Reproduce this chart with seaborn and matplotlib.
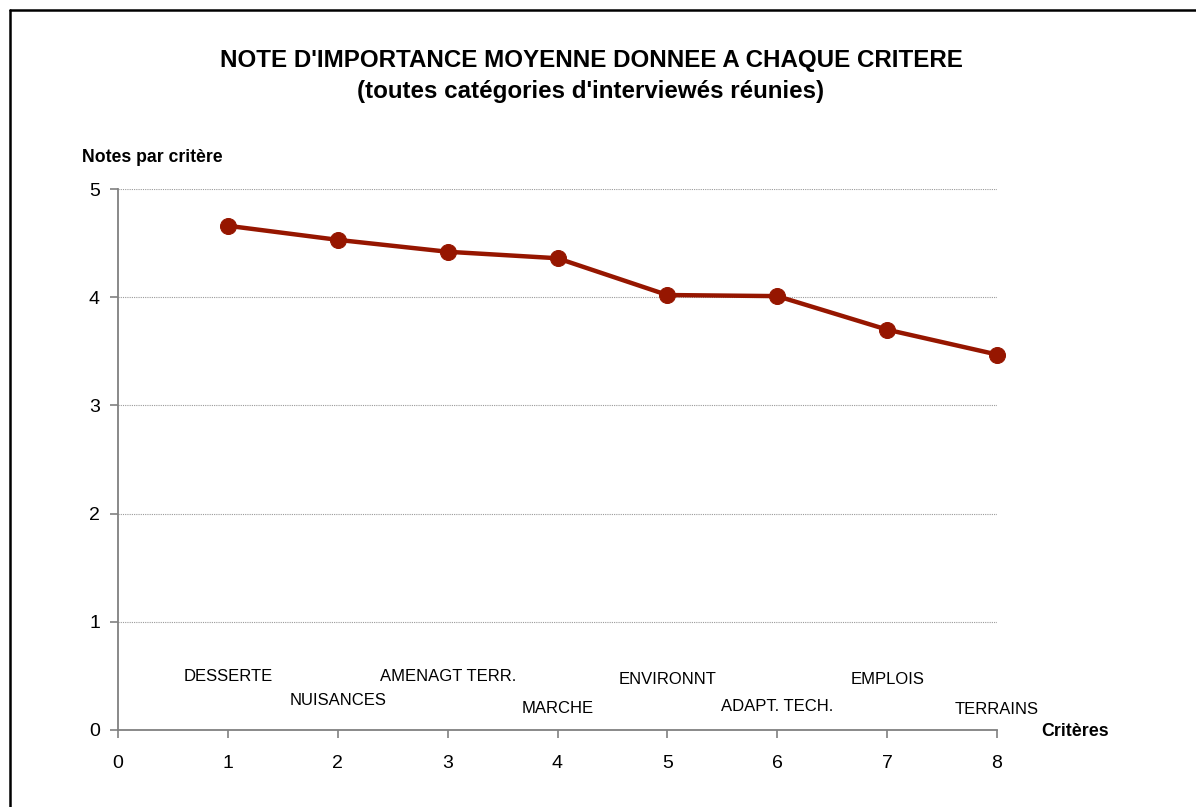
import matplotlib
matplotlib.use("Agg")
import matplotlib.pyplot as plt
import seaborn as sns
import pandas as pd
from matplotlib.lines import Line2D

# ---- data ----
criteria = [1, 2, 3, 4, 5, 6, 7, 8]
criteria_names = ["DESSERTE", "NUISANCES", "AMENAGT TERR.", "MARCHE",
                  "ENVIRONNT", "ADAPT. TECH.", "EMPLOIS", "TERRAINS"]
scores = [4.66, 4.53, 4.42, 4.36, 4.02, 4.01, 3.70, 3.47]
name_levels = [0.49, 0.27, 0.49, 0.20, 0.47, 0.22, 0.47, 0.19]
x_ticks = [0, 1, 2, 3, 4, 5, 6, 7, 8]
y_ticks = [0, 1, 2, 3, 4, 5]

title = "NOTE D'IMPORTANCE MOYENNE DONNEE A CHAQUE CRITERE\n(toutes catégories d'interviewés réunies)"
y_label = "Notes par critère"
x_label = "Critères"

sns.set_theme(style="white")
plt.rcParams["font.family"] = ["Liberation Sans", "DejaVu Sans"]
plt.rcParams["text.color"] = "black"

df = pd.DataFrame({"critere": criteria, "note": scores})

fig = plt.figure(figsize=(11.96, 8.07), dpi=100)
ax = fig.add_axes([118 / 1196, 1 - 730 / 807, (997 - 118) / 1196, (730 - 189) / 807])

line_col = "#961600"
sns.lineplot(data=df, x="critere", y="note", ax=ax, color=line_col,
             linewidth=3.2, marker="o", markersize=11.5,
             markeredgecolor=line_col, markerfacecolor=line_col, clip_on=False)

for xi, name, lv in zip(criteria, criteria_names, name_levels):
    ax.text(xi, lv, name, ha="center", va="center", fontsize=12, color="black")

ax.set_xlim(0, 8)
ax.set_ylim(0, 5)
ax.set_xticks(x_ticks)
ax.set_yticks(y_ticks)
ax.set_xticklabels([str(t) for t in x_ticks], fontsize=14)
ax.set_yticklabels([str(t) for t in y_ticks], fontsize=14)
ax.set_xlabel("")
ax.set_ylabel("")

for s in ["top", "right"]:
    ax.spines[s].set_visible(False)
for s in ["left", "bottom"]:
    ax.spines[s].set_color("#808080")
    ax.spines[s].set_linewidth(1.3)

ax.tick_params(axis="both", which="major", direction="out", length=6, width=1.2,
               color="#808080", labelcolor="black", left=True, bottom=True)
ax.tick_params(axis="y", pad=7)
ax.tick_params(axis="x", pad=12)

for yv in y_ticks[1:]:
    ax.axhline(yv, color="#9a9a9a", linewidth=0.8, linestyle=(0, (1, 1)), zorder=0)

fig.text(591 / 1196, 1 - 76 / 807, title, ha="center", va="center",
         fontsize=17.4, fontweight="bold", linespacing=1.45, color="black")
fig.text(82 / 1196, 1 - 157 / 807, y_label, ha="left", va="center",
         fontsize=12.7, fontweight="bold", color="black")
fig.text(1041 / 1196, 1 - 731 / 807, x_label, ha="left", va="center",
         fontsize=12.8, fontweight="bold", color="black")

# outer frame (top and left edges visible)
fig.add_artist(Line2D([10 / 1196, 1.0], [1 - 10 / 807, 1 - 10 / 807],
                      transform=fig.transFigure, color="black", linewidth=1.8))
fig.add_artist(Line2D([10 / 1196, 10 / 1196], [0.0, 1 - 10 / 807],
                      transform=fig.transFigure, color="black", linewidth=1.8))

fig.savefig("out.png", dpi=100, facecolor="white")
